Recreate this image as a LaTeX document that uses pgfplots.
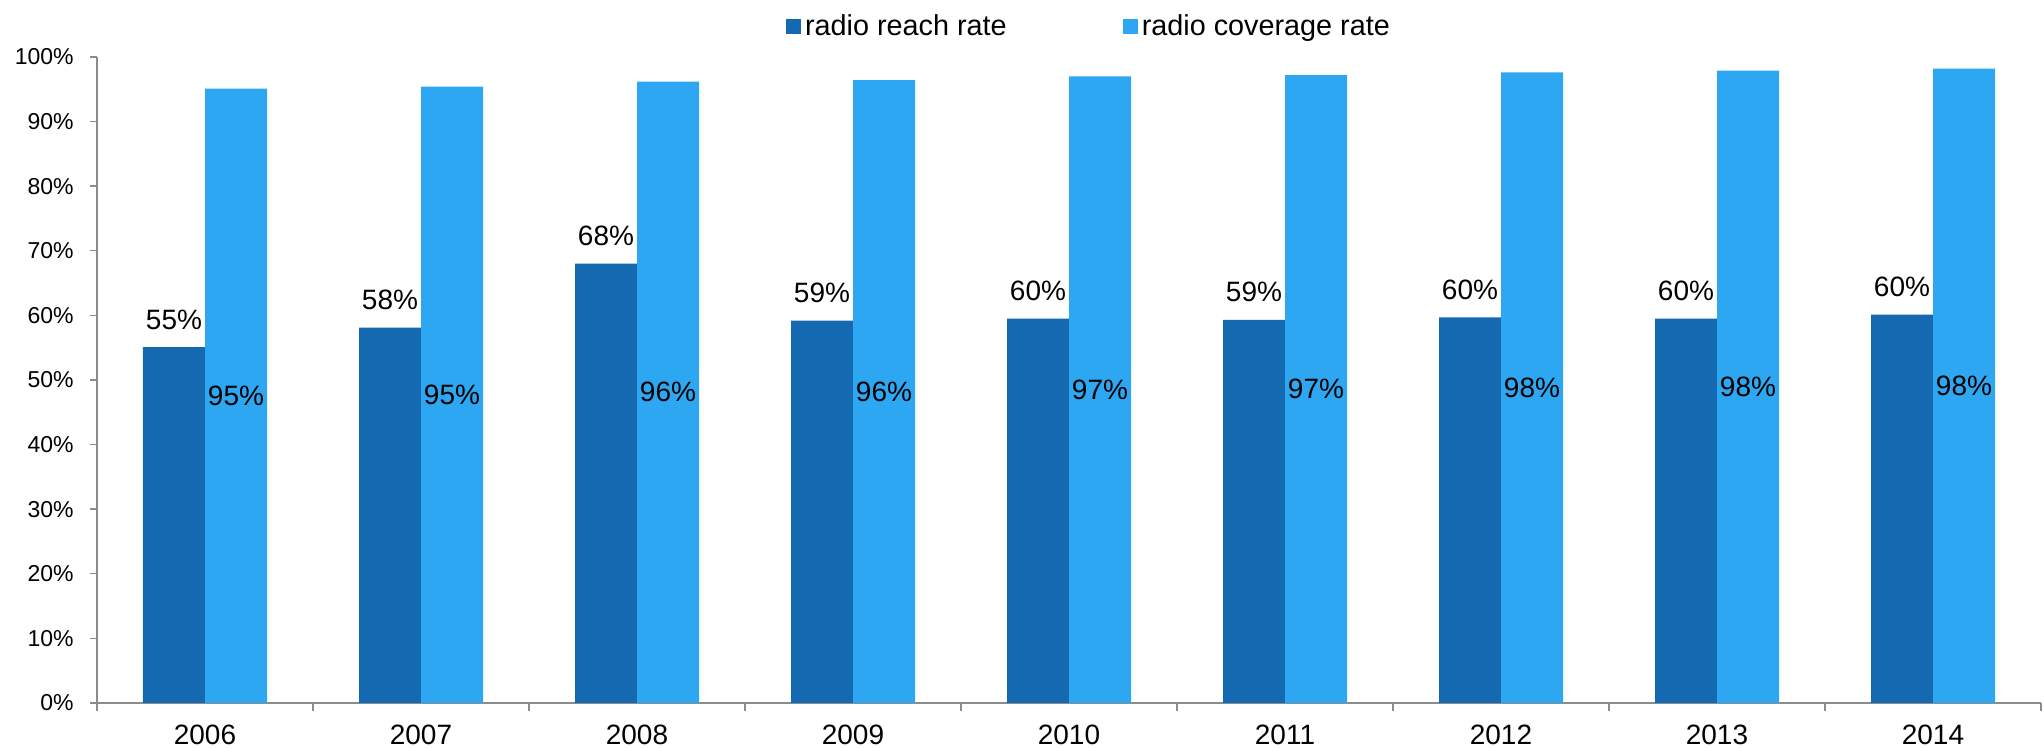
\documentclass[border=0pt]{standalone}
\usepackage{pgfplots}
\pgfplotsset{compat=1.18}
\usepackage{pgfplotstable}
\usepackage{fontspec}
\setmainfont{Liberation Sans}
\definecolor{darkb}{HTML}{1569B0}
\definecolor{lightb}{HTML}{2EA7F2}
\definecolor{axgray}{HTML}{8C8C8C}

\pgfplotstableread{
x y lab
0 55.1 55
1 58.1 58
2 68.0 68
3 59.2 59
4 59.5 60
5 59.3 59
6 59.7 60
7 59.5 60
8 60.1 60
}\reach

\pgfplotstableread{
x y lab
0 95.1 95
1 95.4 95
2 96.2 96
3 96.4 96
4 97.0 97
5 97.2 97
6 97.6 98
7 97.9 98
8 98.2 98
}\cover

\begin{document}
\begin{tikzpicture}
\useasboundingbox (0,0) rectangle (1022pt,374pt);
\begin{axis}[
  at={(48.5pt,22.5pt)}, anchor=south west,
  scale only axis, width=972pt, height=323pt,
  xmin=-0.5, xmax=8.5, ymin=0, ymax=100,
  axis lines*=left,
  axis line style={axgray, line width=0.7pt},
  xtick={0,...,8},
  xticklabels={2006,2007,2008,2009,2010,2011,2012,2013,2014},
  minor xtick={-0.5,0.5,...,8.5},
  ytick={0,10,...,100},
  yticklabels={0\%,10\%,20\%,30\%,40\%,50\%,60\%,70\%,80\%,90\%,100\%},
  tick align=outside,
  major tick length=3.5pt, minor tick length=4pt,
  tick style={axgray, line width=0.7pt},
  major x tick style={draw=none},
  xticklabel style={font=\fontsize{14}{16}\selectfont, inner sep=0pt, anchor=north, yshift=-7.5pt},
  yticklabel style={font=\fontsize{11.5}{13}\selectfont, inner sep=0pt, anchor=east, xshift=-8pt},
  clip=false,
  legend columns=2,
  legend style={at={(0.5108,1.0472)}, anchor=center, draw=none, fill=none,
    font=\fontsize{14.4}{16}\selectfont,
    /tikz/every even column/.append style={column sep=56pt}},
  legend image code/.code={\fill[#1] (0pt,-3.75pt) rectangle (7.5pt,3.75pt);},
]
\addplot[ybar, bar width=31pt, bar shift=-15.5pt, fill=darkb, draw=none,
  point meta=explicit symbolic,
  nodes near coords={\pgfplotspointmeta\%},
  every node near coord/.append style={anchor=base, xshift=-15.5pt, yshift=9pt, text=black, font=\fontsize{14}{16}\selectfont}]
  table[x=x, y=y, meta=lab]{\reach};
\addlegendentry{radio reach rate}
\addplot[ybar, bar width=31pt, bar shift=15.5pt, fill=lightb, draw=none]
  table[x=x, y=y]{\cover};
\addlegendentry{radio coverage rate}
\addplot[draw=none, mark=none, forget plot,
  point meta=explicit symbolic,
  nodes near coords={\pgfplotspointmeta\%},
  every node near coord/.append style={anchor=center, xshift=15.5pt, text=black, font=\fontsize{14}{16}\selectfont}]
  table[x=x, y expr=\thisrow{y}/2, meta=lab]{\cover};
\end{axis}
\end{tikzpicture}
\end{document}
